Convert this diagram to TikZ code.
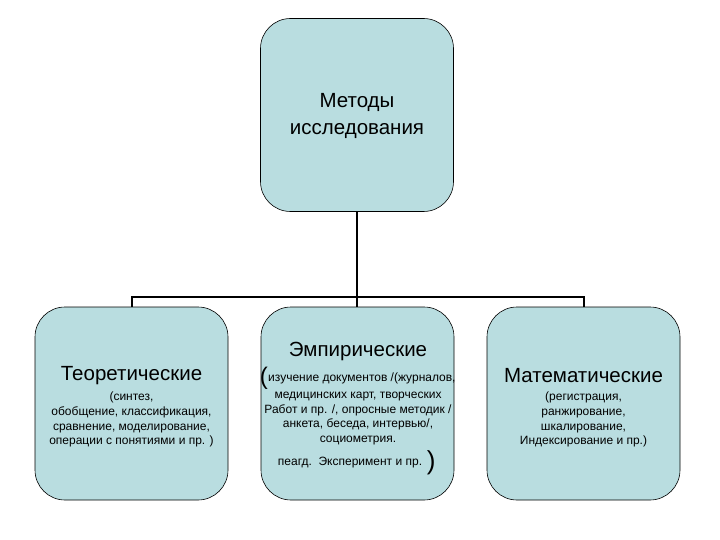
\documentclass[tikz,border=0pt]{standalone}
\usepackage{fontspec}
\setmainfont{Liberation Sans}
\definecolor{boxfill}{HTML}{B9DDE0}
\begin{document}
\begin{tikzpicture}[x=1pt,y=-1pt,
  box/.style={draw=black, line width=0.6pt, fill=boxfill, rounded corners=30pt,
    minimum width=193pt, minimum height=193pt, inner sep=0pt},
  conn/.style={draw=black, line width=2pt},
  ttl/.style={font=\fontsize{20.5}{27}\selectfont, align=center, inner sep=0pt},
  sm/.style={font=\fontsize{12}{14.6}\selectfont, align=center, inner sep=0pt, anchor=north}]
\useasboundingbox (0,0) rectangle (720,540);
\node[box] (top) at (357,115) {};
\node[box] (left) at (131.5,403.5) {};
\node[box] (mid) at (357.5,403.5) {};
\node[box] (right) at (583.5,403.5) {};
\coordinate (bus) at (357,297);
\draw[conn] (top.south) -- (top.south |- mid.north);
\draw[conn] (left.north) -- (left.north |- bus) -- (right.north |- bus) -- (right.north);
% texts
\node[ttl] (ttop) at (357,116) {Методы\\исследования};
\node[ttl] (tleft) at (131.5,376) {Теоретические};
\node[sm] (sleft) at (131.5,392) {(синтез,\\обобщение, классификация,\\сравнение, моделирование,\\операции с понятиями и пр. )};
\node[ttl] (tmid) at (358,351) {Эмпирические};
\node[font=\fontsize{12}{14.6}\selectfont, inner sep=0pt, anchor=west] (smid1) at (268,378) {изучение документов /(журналов,};
\node[font=\fontsize{24}{24}\selectfont, inner sep=0pt, anchor=east] (lpar) at (smid1.west) {(};
\node[sm] (smid) at (358,392) {медицинских карт, творческих\\Работ и пр. /, опросные методик /\\анкета, беседа, интервью/,\\социометрия.};
\node[font=\fontsize{12}{12}\selectfont, inner sep=0pt] (smid2) at (350,463) {пеагд.\ \ Эксперимент и пр.};
\node[font=\fontsize{26}{26}\selectfont, inner sep=0pt, anchor=west] (rpar) at (smid2.east) {\,)};
\node[ttl] (tright) at (583.5,376) {Математические};
\node[sm] (sright) at (583.5,392) {(регистрация,\\ранжирование,\\шкалирование,\\Индексирование и пр.)};
\end{tikzpicture}
\end{document}
